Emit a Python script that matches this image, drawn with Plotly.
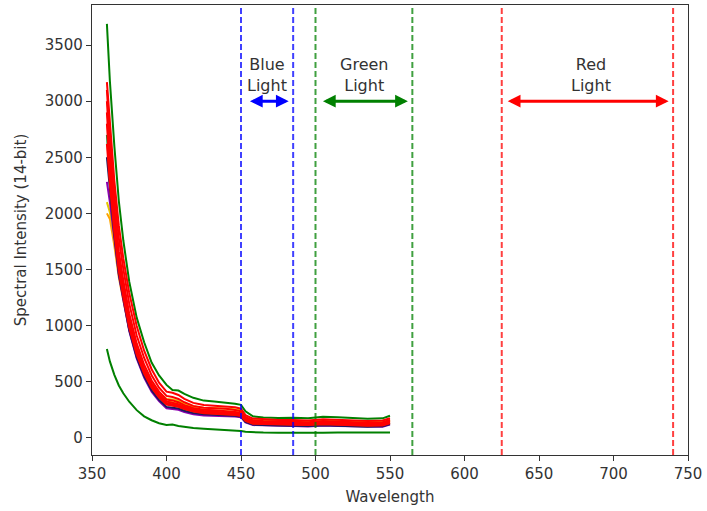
import plotly.graph_objects as go

# ---------------- data ----------------
wavelength = [360, 362, 365, 368, 371, 375, 380, 385, 390, 395, 400, 404, 408, 412, 418, 425,
              432, 440, 446, 450, 453, 458, 465, 475, 485, 495, 505, 515, 525, 535, 545, 550]

green_top = [3690, 3180, 2600, 2110, 1760, 1390, 1070, 850, 670, 555, 470, 425, 420, 390, 355, 330,
             322, 312, 302, 292, 235, 190, 180, 175, 178, 172, 186, 182, 172, 168, 172, 195]
red_a = [3170, 2780, 2290, 1890, 1600, 1290, 995, 775, 610, 490, 410, 400, 380, 345, 310, 290,
         285, 280, 270, 258, 200, 170, 164, 158, 158, 153, 163, 158, 153, 148, 153, 173]
red_b = [3100, 2670, 2170, 1780, 1505, 1195, 910, 710, 555, 445, 372, 362, 345, 315, 283, 267,
         262, 257, 246, 236, 182, 153, 148, 143, 143, 138, 148, 143, 138, 133, 138, 158]
red_c = [3000, 2560, 2060, 1660, 1405, 1105, 840, 650, 510, 410, 340, 332, 316, 290, 264, 249,
         244, 239, 229, 219, 169, 142, 137, 132, 132, 127, 137, 132, 127, 122, 127, 147]
red_d = [2900, 2460, 1960, 1590, 1345, 1055, 798, 618, 483, 388, 322, 313, 298, 275, 251, 237,
         232, 227, 218, 209, 161, 134, 130, 126, 126, 122, 130, 126, 120, 116, 120, 140]
red_e = [2800, 2390, 1905, 1535, 1305, 1015, 765, 590, 460, 370, 306, 298, 286, 264, 242, 228,
         223, 218, 210, 202, 155, 129, 125, 121, 120, 117, 124, 120, 115, 111, 114, 134]
red_f = [2620, 2260, 1830, 1485, 1255, 980, 740, 570, 445, 356, 294, 286, 274, 254, 232, 218,
         214, 209, 201, 193, 148, 124, 120, 116, 115, 112, 119, 115, 110, 106, 109, 128]
olive = [2700, 2310, 1860, 1505, 1275, 995, 750, 580, 452, 362, 300, 292, 280, 258, 236, 222,
         218, 213, 205, 197, 152, 127, 123, 119, 118, 115, 122, 118, 113, 109, 112, 132]
orange = [2000, 1950, 1710, 1430, 1225, 965, 750, 590, 465, 380, 322, 318, 310, 285, 260, 246,
          242, 238, 230, 221, 170, 145, 140, 136, 136, 132, 140, 136, 132, 126, 130, 150]
yellow = [2100, 2010, 1770, 1480, 1265, 1000, 785, 615, 490, 402, 345, 340, 328, 302, 278, 266,
          264, 260, 252, 242, 188, 160, 154, 150, 150, 146, 154, 150, 144, 140, 144, 162]
purple = [2280, 2100, 1780, 1450, 1230, 950, 705, 535, 410, 325, 262, 256, 248, 228, 208, 198,
          196, 193, 188, 182, 136, 112, 108, 104, 103, 100, 108, 104, 100, 96, 98, 116]
navy = [2500, 2200, 1800, 1460, 1235, 960, 718, 548, 423, 336, 274, 268, 260, 240, 220, 208,
        205, 201, 195, 188, 140, 116, 111, 107, 106, 103, 110, 106, 102, 98, 101, 120]
green_low = [790, 680, 560, 465, 395, 320, 245, 190, 155, 128, 112, 116, 104, 96, 86, 80,
             75, 68, 62, 58, 52, 48, 45, 44, 42, 42, 44, 45, 44, 43, 44, 45]

series = [
    ("green_low", green_low, "#008000"),
    ("green_top", green_top, "#008000"),
    ("yellow", yellow, "#e6c800"),
    ("orange", orange, "#ffa500"),
    ("purple", purple, "#8b00b0"),
    ("navy", navy, "#1a1a60"),
    ("olive", olive, "#2e7d32"),
    ("red_f", red_f, "#ff0000"),
    ("red_e", red_e, "#ff0000"),
    ("red_d", red_d, "#ff0000"),
    ("red_c", red_c, "#ff0000"),
    ("red_b", red_b, "#ff0000"),
    ("red_a", red_a, "#ff0000"),
]

band_edges = [450, 485, 500, 565, 625, 740]
band_colors = ["rgba(0,0,255,0.75)", "rgba(0,0,255,0.75)", "rgba(0,128,0,0.75)",
               "rgba(0,128,0,0.75)", "rgba(255,0,0,0.75)", "rgba(255,0,0,0.75)"]

band_labels = ["Blue<br>Light", "Green<br>Light", "Red<br>Light"]
label_x = [467.5, 532.5, 685]
label_y = 3230
arrow_start = [455, 504, 628]
arrow_end = [482, 562, 737]
arrow_y = 3000
arrow_colors = ["#0000ff", "#008000", "#ff0000"]

x_ticks = [350, 400, 450, 500, 550, 600, 650, 700, 750]
y_ticks = [0, 500, 1000, 1500, 2000, 2500, 3000, 3500]

# ---------------- figure ----------------
fig = go.Figure()
for name, vals, col in series:
    fig.add_trace(go.Scatter(x=wavelength, y=vals, mode="lines", name=name,
                             line=dict(color=col, width=2), showlegend=False))

for xv, col in zip(band_edges, band_colors):
    fig.add_shape(type="line", xref="x", yref="paper", x0=xv, x1=xv, y0=0, y1=1,
                  line=dict(color=col, width=2, dash="6px,3px"))

for txt, lx in zip(band_labels, label_x):
    fig.add_annotation(x=lx, y=label_y, text=txt, showarrow=False,
                       font=dict(family="DejaVu Sans", size=16, color="#333333"))

for xs, xe, col in zip(arrow_start, arrow_end, arrow_colors):
    fig.add_annotation(x=xe, y=arrow_y, ax=xs, ay=arrow_y, axref="x", ayref="y",
                       xref="x", yref="y", text="", showarrow=True,
                       arrowside="end+start", arrowhead=2, arrowsize=0.85,
                       arrowwidth=3, arrowcolor=col)

axis_common = dict(showline=True, linecolor="#333333", linewidth=1.2, mirror=True,
                   ticks="outside", ticklen=5, tickcolor="#333333", showgrid=False,
                   zeroline=False, tickfont=dict(family="DejaVu Sans", size=15, color="#333333"))

fig.update_xaxes(range=[350, 750], tickvals=x_ticks,
                 title=dict(text="Wavelength", standoff=9,
                            font=dict(family="DejaVu Sans", size=15, color="#333333")),
                 **axis_common)
fig.update_yaxes(range=[-155, 3858], tickvals=y_ticks,
                 title=dict(text="Spectral Intensity (14-bit)", standoff=14,
                            font=dict(family="DejaVu Sans", size=15, color="#333333")),
                 **axis_common)

fig.update_layout(width=707, height=511, margin=dict(l=92, r=19, t=5, b=56),
                  plot_bgcolor="white", paper_bgcolor="white",
                  font=dict(family="DejaVu Sans"))

fig.write_html("out.html")
